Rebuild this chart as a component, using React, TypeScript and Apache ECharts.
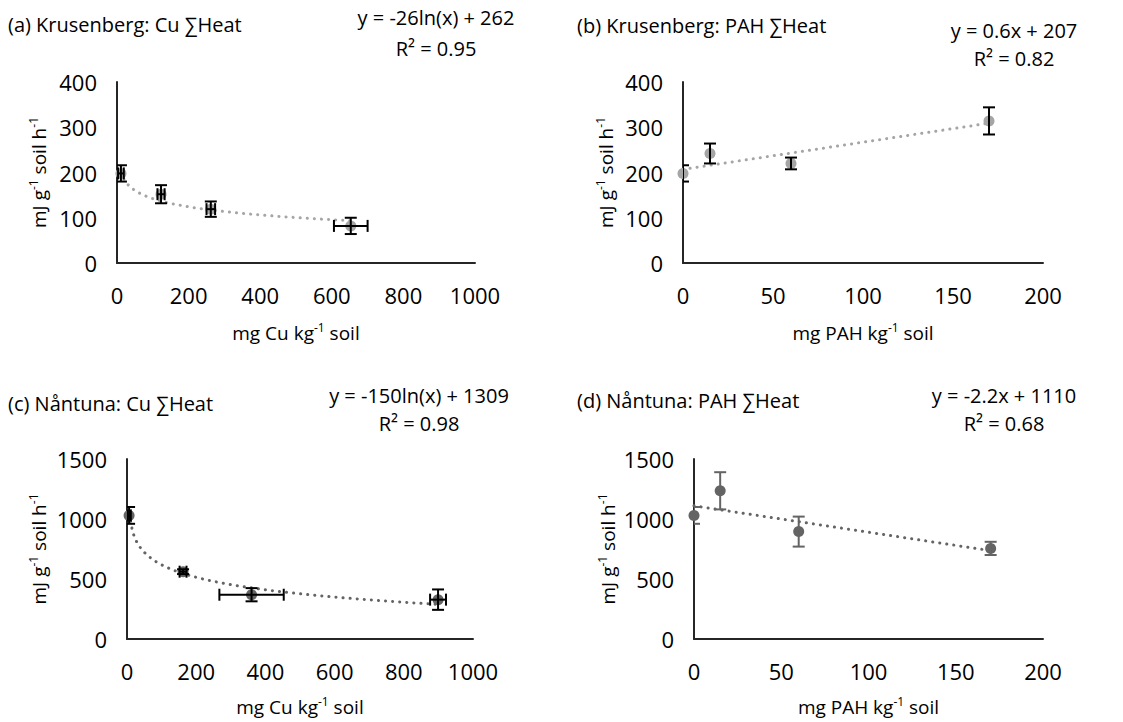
import React, { useEffect, useRef } from 'react';
import * as echarts from 'echarts';

const FONT = '"Open Sans", sans-serif';

// (a) Krusenberg Cu
const aX = [11, 123, 262, 653];
const aY = [198, 152, 119, 82];
const aXErr = [8, 10, 12, 47];
const aYErr = [18, 20, 17, 18];
const aTrend = [-26, 262]; // y = a ln(x) + b

// (b) Krusenberg PAH
const bX = [0, 15, 60, 170];
const bY = [198, 242, 220, 314];
const bXErr = [0, 0, 0, 0];
const bYErr = [18, 22, 13, 30];
const bTrend = [0.6, 207]; // y = a x + b

// (c) Nåntuna Cu
const cX = [6, 162, 360, 899];
const cY = [1030, 561, 369, 328];
const cXErr = [5, 10, 93, 23];
const cYErr = [70, 20, 55, 85];
const cTrend = [-150, 1309];

// (d) Nåntuna PAH
const dX = [0, 15, 60, 170];
const dY = [1030, 1235, 895, 755];
const dXErr = [0, 0, 0, 0];
const dYErr = [70, 155, 125, 55];
const dTrend = [-2.2, 1110];

const titles = ['(a) Krusenberg: Cu ∑Heat', '(b) Krusenberg: PAH ∑Heat', '(c) Nåntuna: Cu ∑Heat', '(d) Nåntuna: PAH ∑Heat'];
const equations = ['y = -26ln(x) + 262', 'y = 0.6x + 207', 'y = -150ln(x) + 1309', 'y = -2.2x + 1110'];
const r2s = ['R² = 0.95', 'R² = 0.82', 'R² = 0.98', 'R² = 0.68'];
const xNames = ['{a|mg Cu kg}{s|-1}{a| soil}', '{a|mg PAH kg}{s|-1}{a| soil}', '{a|mg Cu kg}{s|-1}{a| soil}', '{a|mg PAH kg}{s|-1}{a| soil}'];
const yName = '{a|mJ g}{s|-1}{a| soil h}{s|-1}';

const LIGHT = '#A5A5A5';
const DARK = '#646464';

function trendPoints(kind: string, coef: number[], xs: number[]) {
  const x0 = Math.min(...xs);
  const x1 = Math.max(...xs);
  if (kind === 'lin') return [[x0, coef[0] * x0 + coef[1]], [x1, coef[0] * x1 + coef[1]]];
  const pts: number[][] = [];
  const n = 80;
  for (let i = 0; i <= n; i++) {
    const x = x0 + ((x1 - x0) * i) / n;
    pts.push([x, coef[0] * Math.log(x) + coef[1]]);
  }
  return pts;
}

export default function App() {
  const ref = useRef<HTMLDivElement>(null);
  useEffect(() => {
    if (!ref.current) return;
    const chart = echarts.init(ref.current, null, { renderer: 'svg' });

    const panels = [
      { xs: aX, ys: aY, xe: aXErr, ye: aYErr, kind: 'log', coef: aTrend, color: LIGHT, errColor: '#000', grid: { left: 117, top: 82, width: 358, height: 181 }, xMax: 1000, xInt: 200, yMax: 400, yInt: 100, yGap: 66, xGap: 58 },
      { xs: bX, ys: bY, xe: bXErr, ye: bYErr, kind: 'lin', coef: bTrend, color: LIGHT, errColor: '#000', grid: { left: 683, top: 82, width: 360, height: 181 }, xMax: 200, xInt: 50, yMax: 400, yInt: 100, yGap: 65, xGap: 58 },
      { xs: cX, ys: cY, xe: cXErr, ye: cYErr, kind: 'log', coef: cTrend, color: DARK, errColor: '#000', grid: { left: 127, top: 459, width: 346, height: 180 }, xMax: 1000, xInt: 200, yMax: 1500, yInt: 500, yGap: 76, xGap: 56 },
      { xs: dX, ys: dY, xe: dXErr, ye: dYErr, kind: 'lin', coef: dTrend, color: DARK, errColor: DARK, grid: { left: 694, top: 459, width: 349, height: 180 }, xMax: 200, xInt: 50, yMax: 1500, yInt: 500, yGap: 74, xGap: 56 },
    ];

    const richName = {
      a: { fontSize: 19, fontFamily: FONT, color: '#000', lineHeight: 24 },
      s: { fontSize: 12, fontFamily: FONT, color: '#000', lineHeight: 12, verticalAlign: 'top' },
    };

    const grids: any[] = [];
    const xAxes: any[] = [];
    const yAxes: any[] = [];
    const series: any[] = [];
    const graphics: any[] = [];

    panels.forEach((p, i) => {
      grids.push({ ...p.grid, containLabel: false });
      xAxes.push({
        gridIndex: i, type: 'value', min: 0, max: p.xMax, interval: p.xInt,
        axisLine: { show: true, onZero: false, lineStyle: { color: '#262626', width: 2 } },
        axisTick: { show: false }, splitLine: { show: false },
        axisLabel: { fontSize: 22, fontFamily: FONT, color: '#000', margin: 21, formatter: (v: number) => String(v) },
        name: xNames[i], nameLocation: 'middle', nameGap: p.xGap,
        nameTextStyle: { rich: richName },
      });
      yAxes.push({
        gridIndex: i, type: 'value', min: 0, max: p.yMax, interval: p.yInt,
        axisLine: { show: true, onZero: false, lineStyle: { color: '#262626', width: 2 } },
        axisTick: { show: false }, splitLine: { show: false },
        axisLabel: { fontSize: 22, fontFamily: FONT, color: '#000', margin: 20, formatter: (v: number) => String(v) },
        name: yName, nameLocation: 'middle', nameGap: p.yGap, nameRotate: 90,
        nameTextStyle: { rich: richName },
      });
      series.push({
        type: 'line', xAxisIndex: i, yAxisIndex: i,
        data: trendPoints(p.kind, p.coef, p.xs),
        showSymbol: false, symbol: 'none', smooth: false,
        lineStyle: { color: p.color, width: 3, type: [0.1, 7], cap: 'round' },
        z: 2, silent: true,
      });
      series.push({
        type: 'scatter', xAxisIndex: i, yAxisIndex: i,
        data: p.xs.map((x, k) => [x, p.ys[k]]),
        symbol: 'circle', symbolSize: 11,
        itemStyle: { color: p.color, opacity: 1 },
        z: 3,
      });
      series.push({
        type: 'custom', xAxisIndex: i, yAxisIndex: i,
        data: p.xs.map((x, k) => [x, p.ys[k], p.xe[k], p.ye[k]]),
        clip: true,
        z: 4,
        renderItem: (params: any, api: any) => {
          const x = api.value(0), y = api.value(1), ex = api.value(2), ey = api.value(3);
          const cap = 6;
          const style = { stroke: p.errColor, lineWidth: 2, fill: 'none' };
          const children: any[] = [];
          if (ey > 0) {
            const t = api.coord([x, y + ey]);
            const b = api.coord([x, y - ey]);
            children.push({ type: 'line', shape: { x1: t[0], y1: t[1], x2: b[0], y2: b[1] }, style });
            children.push({ type: 'line', shape: { x1: t[0] - cap, y1: t[1], x2: t[0] + cap, y2: t[1] }, style });
            children.push({ type: 'line', shape: { x1: b[0] - cap, y1: b[1], x2: b[0] + cap, y2: b[1] }, style });
          }
          if (ex > 0) {
            const l = api.coord([Math.max(0, x - ex), y]);
            const r = api.coord([x + ex, y]);
            children.push({ type: 'line', shape: { x1: l[0], y1: l[1], x2: r[0], y2: r[1] }, style });
            if (x - ex >= 0) children.push({ type: 'line', shape: { x1: l[0], y1: l[1] - cap, x2: l[0], y2: l[1] + cap }, style });
            children.push({ type: 'line', shape: { x1: r[0], y1: r[1] - cap, x2: r[0], y2: r[1] + cap }, style });
          }
          return { type: 'group', children };
        },
      });
    });

    const titlePos = [[8, 24], [577, 25], [8, 403], [577, 400]];
    const eqPos = [[436, 17, 48], [1014, 30, 58], [419, 395, 423], [1004, 395, 423]];
    titles.forEach((t, i) => {
      graphics.push({ type: 'text', x: titlePos[i][0], y: titlePos[i][1], style: { text: t, font: `20px ${FONT}`, fill: '#000', textAlign: 'left', textVerticalAlign: 'middle' } });
      graphics.push({ type: 'text', x: eqPos[i][0], y: eqPos[i][1], style: { text: equations[i], font: `20px ${FONT}`, fill: '#000', textAlign: 'center', textVerticalAlign: 'middle' } });
      graphics.push({ type: 'text', x: eqPos[i][0], y: eqPos[i][2], style: { text: r2s[i], font: `20px ${FONT}`, fill: '#000', textAlign: 'center', textVerticalAlign: 'middle' } });
    });

    chart.setOption({
      animation: false,
      backgroundColor: '#fff',
      textStyle: { fontFamily: FONT },
      grid: grids,
      xAxis: xAxes,
      yAxis: yAxes,
      series,
      graphic: graphics,
    });
    return () => chart.dispose();
  }, []);
  return <div ref={ref} style={{ position: 'fixed', left: 0, top: 0, width: 1123, height: 722, background: '#fff' }} />;
}
